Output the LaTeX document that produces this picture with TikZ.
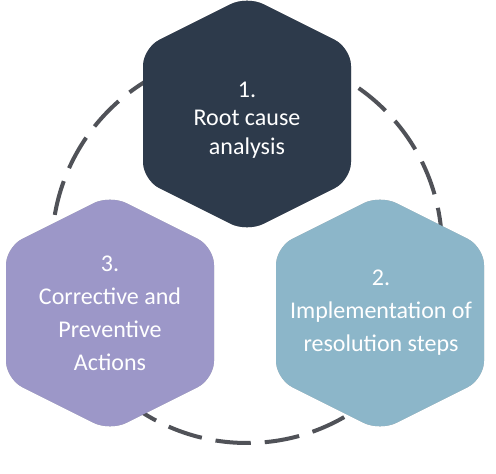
\documentclass[tikz,border=0pt]{standalone}
\usepackage{fontspec}
\setmainfont{Carlito}

\definecolor{navy}{HTML}{2D3A4B}
\definecolor{lavender}{HTML}{9C97C8}
\definecolor{steelblue}{HTML}{8CB6C9}
\definecolor{ringgray}{HTML}{505258}

\begin{document}
\begin{tikzpicture}
	[
		x=0.75pt, y=-0.75pt,
		hexpath/.style = {insert path={({\x - 104}, \y) -- ({\x - 104}, {\y - 66}) -- (\x, {\y - 118}) -- ({\x + 104}, {\y - 66}) -- ({\x + 104}, {\y + 66}) -- (\x, {\y + 118}) -- ({\x - 104}, {\y + 66}) -- cycle}},
		hexagon/.style = {rounded corners=13.5pt, hexpath},
		shade/.style = {hexagon, fill=black, opacity=0.035},
		ring/.style = {draw=ringgray, line width=3pt, dash pattern=on 26.25pt off 10.5pt},
		label/.style = {text=white, align=center, anchor=center}
	]
	
	\useasboundingbox (0,0) rectangle (496,474);
	
	\draw [ring] (247,248) ++(89:195) arc [start angle=89, end angle=449, radius=195];
	
	% top
	\def\x{247}
	\def\y{114}
	
	\foreach \i in {1,...,10}
		\fill [shade, yshift=\i*0.8pt];
	\fill [hexagon, fill=navy];
	\node [label, font=\fontsize{18}{21.4}\selectfont] (root) at (247, 120) {1.\\Root cause\\analysis};
	
	% right
	\def\x{380}
	\def\y{313}
	
	\foreach \i in {1,...,10}
		\fill [shade, yshift=\i*0.8pt];
	\fill [hexagon, fill=steelblue];
	\node [label, font=\fontsize{18}{24.75}\selectfont] (steps) at (381, 313) {2.\\Implementation of\\resolution steps};
	
	% left
	\def\x{110}
	\def\y{313}
	
	\foreach \i in {1,...,10}
		\fill [shade, yshift=\i*0.8pt];
	\fill [hexagon, fill=lavender];
	\node [label, font=\fontsize{18}{24.75}\selectfont] (capa) at (110, 313) {3.\\Corrective and\\Preventive\\Actions};
	
\end{tikzpicture}
\end{document}
